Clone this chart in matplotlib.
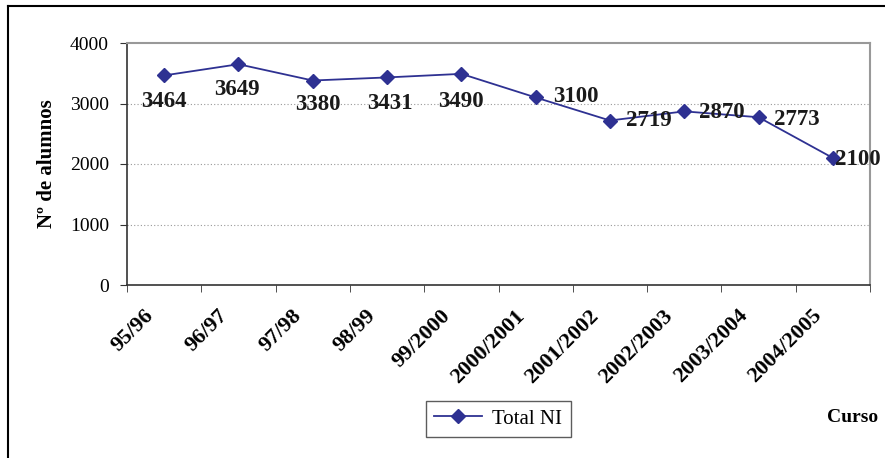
import matplotlib
matplotlib.use("Agg")
import matplotlib.pyplot as plt
from matplotlib.lines import Line2D
from matplotlib.transforms import ScaledTranslation

categories = ["95/96", "96/97", "97/98", "98/99", "99/2000", "2000/2001",
              "2001/2002", "2002/2003", "2003/2004", "2004/2005"]
total_ni = [3464, 3649, 3380, 3431, 3490, 3100, 2719, 2870, 2773, 2100]
series_name = "Total NI"
y_ticks = [0, 1000, 2000, 3000, 4000]

# label offsets in pixels (dx, dy), style only
label_offsets = [(0, -26), (-2, -25), (5, -24), (3, -26), (0, -28),
                 (40, 1), (39, 0), (38, -1), (38, -2), (25, -2)]

plt.rcParams['font.family'] = ['Liberation Serif', 'DejaVu Serif']

fig = plt.figure(figsize=(8.85, 4.58), dpi=100)
ax = fig.add_axes([127/885, 1-285/458, (870-127)/885, (285-43)/458])

color = '#2E3192'
x = list(range(len(categories)))
ax.plot(x, total_ni, color=color, lw=1.3, marker='D', markersize=7.5,
        label=series_name)

for xi, v, (dx, dy) in zip(x, total_ni, label_offsets):
    ax.annotate(str(v), (xi, v), xytext=(dx, dy), textcoords='offset pixels',
                ha='center', va='center', fontsize=16.5, fontweight='bold',
                color='#1a1a1a')

ax.set_xlim(-0.5, len(categories) - 0.5)
ax.set_ylim(0, 4000)
ax.set_yticks(y_ticks)
ax.set_yticklabels([str(t) for t in y_ticks], fontsize=14)
ax.set_xticks(x)
ax.set_xticklabels(categories, rotation=45, ha='right', va='center',
                   rotation_mode='anchor', fontsize=16, fontweight='bold')
ax.set_xticks([i - 0.5 for i in range(len(categories) + 1)], minor=True)
ax.tick_params(axis='x', which='major', length=0, pad=20)
ax.tick_params(axis='x', which='minor', length=5, direction='out', color='#333333')
ax.tick_params(axis='y', length=5, direction='out', color='#333333', pad=8)
shift = ScaledTranslation(-14/100, 0, fig.dpi_scale_trans)
for tick in ax.xaxis.get_major_ticks():
    tick.label1.set_transform(tick.label1.get_transform() + shift)

for yv in [1000, 2000, 3000]:
    ax.axhline(yv, color='#999999', lw=0.8, ls=(0, (1, 2)), zorder=0)

for s in ['top', 'right']:
    ax.spines[s].set_color('#999999')
    ax.spines[s].set_linewidth(1.5)
for s in ['left', 'bottom']:
    ax.spines[s].set_color('#333333')
    ax.spines[s].set_linewidth(1.2)

ax.set_ylabel("Nº de alumnos", fontsize=15, fontweight='bold', labelpad=9)

leg = fig.legend(handles=[Line2D([0], [0], color=color, marker='D', markersize=7.5,
                                 lw=1.3, label=series_name)],
                 loc='center', bbox_to_anchor=(498/885, 1-419/458),
                 frameon=True, fancybox=False, fontsize=15,
                 handlelength=2.3, handletextpad=0.5, borderpad=0.4,
                 edgecolor='#333333')
leg.get_frame().set_linewidth(1.0)

fig.text(853/885, 1-418/458, "Curso", ha='center', va='center',
         fontsize=14, fontweight='bold')

# figure frame (top and left visible)
fig.add_artist(Line2D([8/885, 1], [1-6/458, 1-6/458], color='black', lw=1.5,
                      transform=fig.transFigure))
fig.add_artist(Line2D([8/885, 8/885], [0, 1-6/458], color='black', lw=1.5,
                      transform=fig.transFigure))

fig.savefig("out.png", dpi=100)
